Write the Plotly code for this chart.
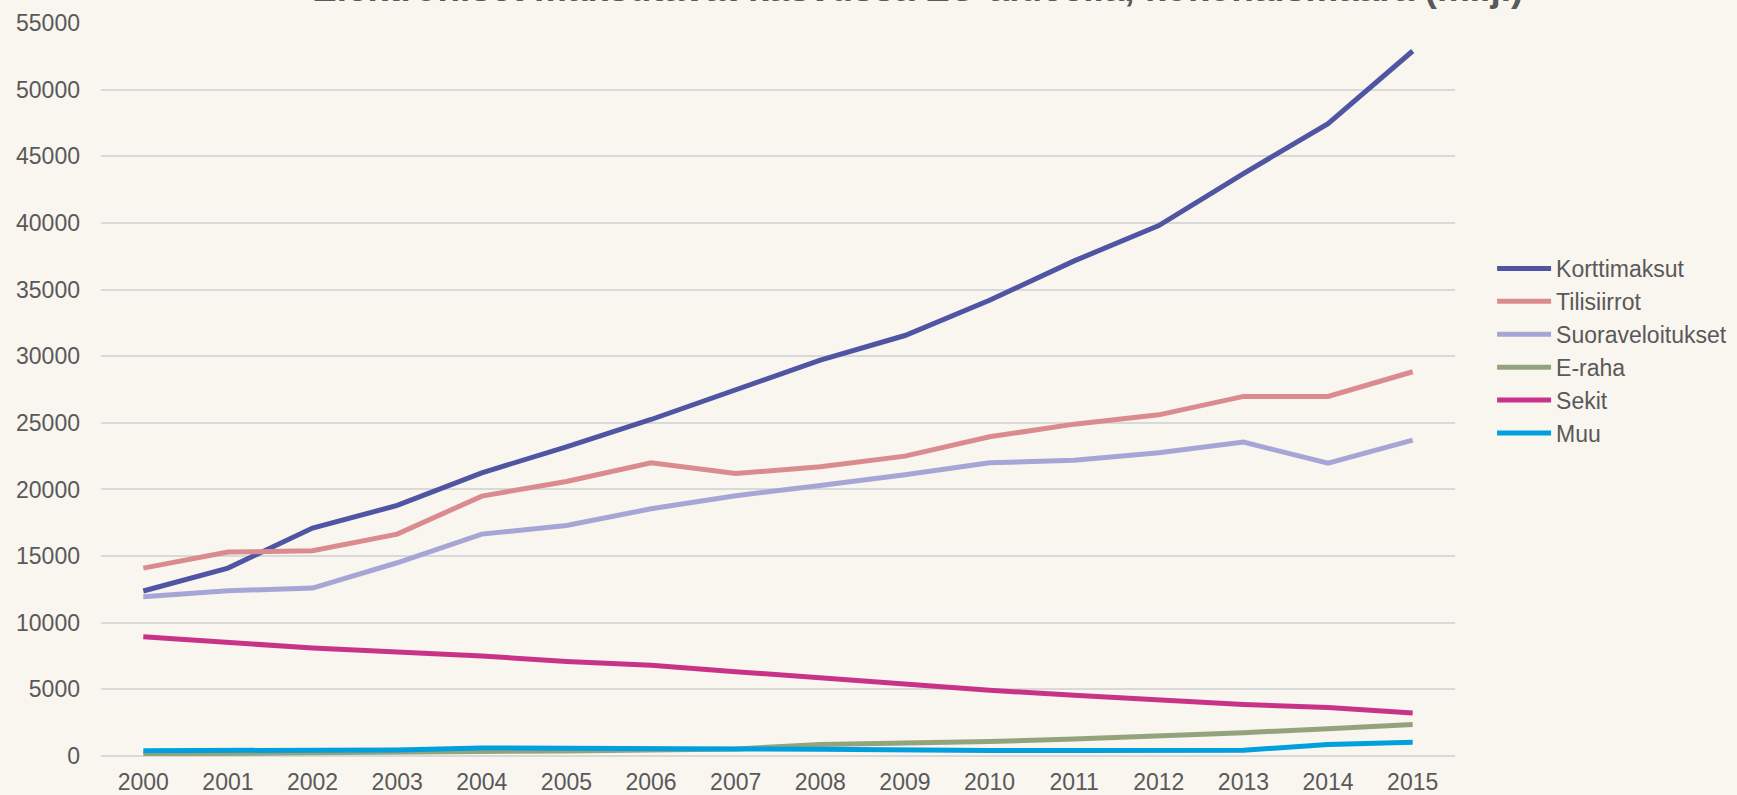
import plotly.graph_objects as go

years = [str(y) for y in range(2000, 2016)]

korttimaksut = [12380, 14100, 17100, 18800, 21250, 23200, 25250, 27450, 29700, 31550, 34200, 37150, 39800, 43700, 47450, 52900]
tilisiirrot = [14100, 15300, 15400, 16650, 19500, 20600, 22000, 21200, 21700, 22500, 23950, 24900, 25600, 26980, 26980, 28830]
suoraveloitukset = [11950, 12400, 12600, 14500, 16650, 17300, 18550, 19530, 20300, 21100, 22000, 22200, 22750, 23550, 21970, 23700]
e_raha = [150, 180, 220, 280, 330, 380, 450, 530, 860, 940, 1080, 1280, 1470, 1750, 2050, 2360]
sekit = [8950, 8500, 8100, 7800, 7500, 7100, 6800, 6330, 5860, 5390, 4940, 4550, 4200, 3860, 3640, 3220]
muu = [400, 420, 450, 450, 600, 600, 550, 530, 500, 420, 420, 420, 440, 440, 860, 1030]

series = [
    ("Korttimaksut", korttimaksut, "#4F55A3"),
    ("Tilisiirrot", tilisiirrot, "#DA8B8E"),
    ("Suoraveloitukset", suoraveloitukset, "#A5A6D5"),
    ("E-raha", e_raha, "#93A47C"),
    ("Sekit", sekit, "#C83388"),
    ("Muu", muu, "#009FDE"),
]

title_text = "Elektroniset maksutavat kasvussa EU-alueella, kokonaismäärä (milj.)"
y_ticks = list(range(0, 55001, 5000))

fig = go.Figure()
for name, vals, color in series:
    fig.add_trace(go.Scatter(
        x=years, y=vals, name=name, mode="lines",
        line=dict(color=color, width=5),
    ))

txt = "#595959"
fig.update_layout(
    width=1737, height=795,
    paper_bgcolor="#F9F5EF", plot_bgcolor="#F9F5EF",
    margin=dict(l=101, r=282, t=23, b=39, autoexpand=False),
    font=dict(family="Arial, Liberation Sans, sans-serif", color=txt, size=23),
    showlegend=True,
    legend=dict(
        xref="container", yref="container",
        x=0.859, y=0.6893, xanchor="left", yanchor="top",
        font=dict(size=23, color=txt),
        itemwidth=54, bgcolor="rgba(0,0,0,0)", borderwidth=0,
        traceorder="normal",
    ),
    annotations=[dict(
        text="<b>" + title_text + "</b>", xref="paper", yref="paper",
        x=0.603, y=1, xanchor="center", yanchor="bottom", yshift=12,
        showarrow=False, font=dict(size=37, color=txt),
    )],
)
fig.update_xaxes(
    type="category", range=[-0.5, 15.5], showgrid=False, showline=False, zeroline=False,
    tickfont=dict(size=23, color=txt), ticks="", ticklabelstandoff=10,
    automargin=False,
)
fig.update_yaxes(
    range=[0, 55000], tickvals=y_ticks, ticktext=[str(v) for v in y_ticks],
    showgrid=True, gridcolor="#D9D9D9", gridwidth=2,
    zeroline=True, zerolinecolor="#D9D9D9", zerolinewidth=2,
    showline=False, ticks="", ticklabelstandoff=20,
    tickfont=dict(size=23, color=txt), automargin=False,
)
fig.write_html(
    "out.html",
    config={"displayModeBar": False},
    post_script="document.body.style.margin='0';document.body.style.overflow='hidden';document.documentElement.style.overflow='hidden';",
)
